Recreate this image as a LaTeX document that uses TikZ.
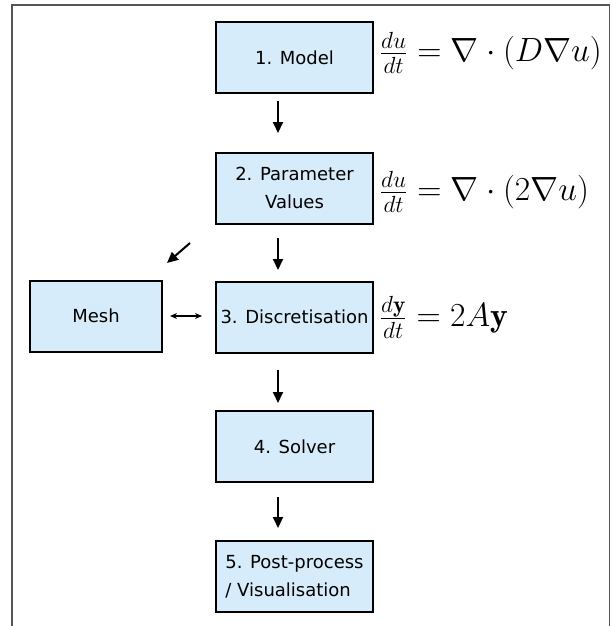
\documentclass[tikz,border=0pt]{standalone}
\usepackage{graphicx}
\usepackage{fontspec}
\newfontfamily\boxfont{DejaVu Sans}
\usetikzlibrary{arrows.meta}
\definecolor{boxfill}{HTML}{D6ECFA}
\definecolor{framegray}{HTML}{555555}
\newcommand{\bigeq}[1]{\scalebox{1.62}{$#1$}}
\begin{document}
\begin{tikzpicture}[x=1pt,y=-1pt,
  stepbox/.style={draw=black, line width=2pt, fill=boxfill, minimum width=157pt, minimum height=71pt, inner sep=0pt, font=\boxfont\fontsize{18}{28}\selectfont, align=center},
  flow/.style={-{Triangle[length=11pt,width=10pt]}, line width=2pt},
  twoway/.style={{Stealth[length=7pt,width=6pt]}-{Stealth[length=7pt,width=6pt]}, line width=1.3pt},
  eqn/.style={anchor=base west, inner sep=0pt, font=\fontsize{20.74}{25}\selectfont}]
\useasboundingbox (0,0) rectangle (611,626);
\draw[framegray, line width=1.6pt] (12,626) -- (12,5) -- (609.5,5) -- (609.5,626);

\node[stepbox] (m1) at (294.5,57.5) {1. Model};
\node[stepbox] (m2) at (294.5,188) {2. Parameter\\Values};
\node[stepbox] (m3) at (294.5,317) {3. Discretisation};
\node[stepbox] (m4) at (294.5,446.5) {4. Solver};
\node[stepbox, align=left] (m5) at (294.5,576.5) {5. Post-process\\/ Visualisation};
\node[stepbox, minimum width=132pt] (mesh) at (96,316) {Mesh};

\node[eqn] (e1) at (379,61.5) {\bigeq{\frac{du}{dt} = \nabla\cdot(D\nabla u)}};
\node[eqn] (e2) at (379,200.5) {\bigeq{\frac{du}{dt} = \nabla\cdot(2\nabla u)}};
\node[eqn] (e3) at (379,326.5) {\bigeq{\frac{d\mathbf{y}}{dt} = 2A\mathbf{y}}};

\coordinate (a1s) at (278,101); \coordinate (a1e) at (278,133);
\coordinate (a2s) at (278,238); \coordinate (a2e) at (278,270);
\coordinate (a3s) at (278,370); \coordinate (a3e) at (278,403);
\coordinate (a4s) at (278,497); \coordinate (a4e) at (278,528);
\coordinate (d1s) at (190,243); \coordinate (d1e) at (167,263);
\coordinate (b1s) at (170,316); \coordinate (b1e) at (202,316);

\draw[flow] (a1s) -- (a1e);
\draw[flow] (a2s) -- (a2e);
\draw[flow] (a3s) -- (a3e);
\draw[flow] (a4s) -- (a4e);
\draw[flow] (d1s) -- (d1e);
\draw[twoway] (b1s) -- (b1e);
\end{tikzpicture}
\end{document}
